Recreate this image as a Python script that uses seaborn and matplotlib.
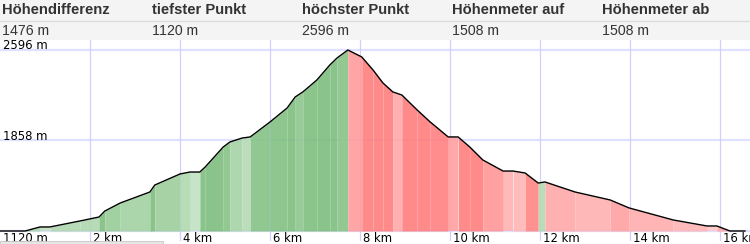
import numpy as np
import pandas as pd
import matplotlib
matplotlib.use("Agg")
import matplotlib.pyplot as plt
import matplotlib.colors as mcolors
from matplotlib.patches import Rectangle
from matplotlib.lines import Line2D
import seaborn as sns

# ---------------- data ----------------
dist_km = [0.0, 0.56, 0.89, 1.11, 1.78, 2.2, 2.33, 2.67, 3.33, 3.44, 4.0, 4.22, 4.44,
           4.56, 4.96, 5.11, 5.38, 5.56, 6.0, 6.38, 6.56, 6.73, 7.04, 7.33, 7.49, 7.73,
           8.04, 8.29, 8.51, 8.73, 8.93, 9.27, 9.56, 9.96, 10.18, 10.44, 10.73, 11.18,
           11.4, 11.67, 11.96, 12.11, 12.78, 13.56, 13.98, 14.96, 15.71, 15.93, 16.22, 16.56]
elev_m = [1120, 1120, 1153, 1153, 1202, 1234, 1283, 1348, 1438, 1495, 1585, 1601, 1601,
          1642, 1805, 1846, 1878, 1887, 2009, 2123, 2213, 2254, 2351, 2474, 2531, 2596,
          2539, 2433, 2327, 2254, 2229, 2107, 2009, 1887, 1887, 1805, 1699, 1609,
          1609, 1593, 1511, 1520, 1438, 1373, 1308, 1210, 1161, 1161, 1120, 1120]

header_labels = ["Höhendifferenz", "tiefster Punkt", "höchster Punkt", "Höhenmeter auf", "Höhenmeter ab"]
header_values = ["1476 m", "1120 m", "2596 m", "1508 m", "1508 m"]
y_ticks = [1120, 1858, 2596]
y_tick_labels = ["1120 m", "1858 m", "2596 m"]
x_ticks = [2, 4, 6, 8, 10, 12, 14, 16]
x_tick_labels = ["2 km", "4 km", "6 km", "8 km", "10 km", "12 km", "14 km", "16 km"]

# ---------------- layout ----------------
W, H = 750, 244
sns.set_theme(style="white")
plt.rcParams["font.family"] = ["DejaVu Sans"]

fig = plt.figure(figsize=(W / 100, H / 100), dpi=100)
fig.patch.set_facecolor("white")

# header background
fig.patches.append(Rectangle((0, 1 - 40 / H), 1, 40 / H, transform=fig.transFigure,
                             facecolor="#f4f4f4", edgecolor="none", zorder=0))
fig.lines.append(Line2D([0, 1], [1 - 20.5 / H, 1 - 20.5 / H], transform=fig.transFigure,
                        color="#dcdcdc", lw=1.0))
for i, (lab, val) in enumerate(zip(header_labels, header_values)):
    x = (2 + 150 * i) / W
    fig.text(x, 1 - 10.5 / H, lab, ha="left", va="center", fontsize=10.6,
             fontweight="bold", color="#333333", family=["Liberation Sans"])
    fig.text(x, 1 - 31 / H, val, ha="left", va="center", fontsize=10.2,
             color="#333333", family=["Liberation Sans"])

# axes: pixel rows 40..244
ax = fig.add_axes([0, 0, 1, (H - 40) / H])
px_per_km = 45.0
m_per_px = (2596 - 1120) / (231 - 50)
ax.set_xlim(0, W / px_per_km)
ax.set_ylim(1120 - (244 - 231) * m_per_px, 2596 + (50 - 40) * m_per_px)
ax.set_axis_off()


def blend(c1, c2, t):
    a = np.array(mcolors.to_rgb(c1))
    b = np.array(mcolors.to_rgb(c2))
    return tuple(a + (b - a) * t)


# grid lines (behind the profile)
for yv in y_ticks:
    ax.axhline(yv, color="#e0e0ff", lw=1.6, zorder=0.5)
for xv in x_ticks:
    ax.axvline(xv, ymin=(244 - 240) / (H - 40), ymax=1, color="#d0d0ff", lw=0.9,
               zorder=0.5)

# coloured fill segments by slope (slightly translucent so grid shows through)
prev = "#b8dcb8"
for i in range(len(dist_km) - 1):
    d0, d1 = dist_km[i], dist_km[i + 1]
    e0, e1 = elev_m[i], elev_m[i + 1]
    slope = (e1 - e0) / ((d1 - d0) * 1000)
    t = min(abs(slope) / 0.32, 1.0)
    if slope > 0.004:
        col = blend("#bfe0bf", "#80bf80", t)
    elif slope < -0.004:
        col = blend("#ffc4c4", "#ff8080", t)
    else:
        col = blend(prev, "#ffffff", 0.25)
    prev = col if abs(slope) > 0.004 else prev
    ax.fill_between([d0, d1], [e0, e1], 1120, color=col, lw=0, alpha=0.92, zorder=1)

# profile line
df = pd.DataFrame({"km": dist_km, "m": elev_m})
sns.lineplot(data=df, x="km", y="m", color="black", lw=1.0, ax=ax,
             estimator=None, sort=False, zorder=3)
ax.set_axis_off()

# tick labels
for yv, lab in zip(y_ticks, y_tick_labels):
    if yv == 1120:
        ty = 1120 - 7 * m_per_px
    else:
        ty = yv + 4.5 * m_per_px
    ax.text(3 / px_per_km, ty, lab, ha="left", va="center", fontsize=8.4,
            color="black", zorder=4)
for xv, lab in zip(x_ticks, x_tick_labels):
    ax.text(xv + 3 / px_per_km, 1120 - 7 * m_per_px, lab, ha="left", va="center",
            fontsize=8.4, color="black", zorder=4)

# bottom scroll bar
fig.patches.append(Rectangle((0, 0), 163 / W, 3 / H, transform=fig.transFigure,
                             facecolor="#e6e6e6", edgecolor="#c8c8c8", lw=0.6, zorder=5))

fig.savefig("out.png", dpi=100, facecolor=fig.get_facecolor())
